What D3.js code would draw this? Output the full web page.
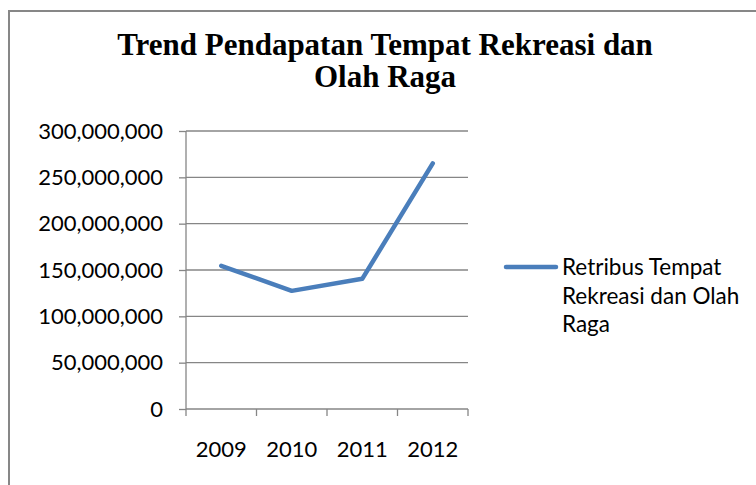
<!DOCTYPE html>
<html>
<head>
<meta charset="utf-8">
<script src="https://cdn.jsdelivr.net/npm/d3@7"></script>
<style>
  body { margin: 0; background: #fff; }
  text { fill: #000; }
</style>
</head>
<body>
<div id="chart"></div>
<script>
// data
var years = ["2009", "2010", "2011", "2012"];
var retribusi = [154500000, 127500000, 140500000, 265000000];
var yTicks = [0, 50000000, 100000000, 150000000, 200000000, 250000000, 300000000];
var titleLines = ["Trend Pendapatan Tempat Rekreasi dan", "Olah Raga"];
var legendLines = ["Retribus Tempat", "Rekreasi dan Olah", "Raga"];

var W = 756, H = 485;
var margin = {top: 131, left: 186, right: 288, bottom: 76};
var width = W - margin.left - margin.right,
    height = H - margin.top - margin.bottom;

var svg = d3.select("#chart").append("svg")
  .attr("width", W).attr("height", H);

// chart frame
svg.append("rect")
  .attr("x", 9).attr("y", 11)
  .attr("width", W + 20).attr("height", H + 20)
  .attr("fill", "none").attr("stroke", "#878787").attr("stroke-width", 2);

// title
svg.selectAll(".title").data(titleLines).enter().append("text")
  .attr("class", "title")
  .attr("x", 385)
  .attr("y", function(d, i) { return 55 + i * 32; })
  .attr("text-anchor", "middle")
  .style("font-family", "'Liberation Serif', 'Times New Roman', serif")
  .style("font-weight", "bold")
  .style("font-size", "31px")
  .text(function(d) { return d; });

var g = svg.append("g")
  .attr("transform", "translate(" + margin.left + "," + margin.top + ")");

var x = d3.scaleBand().domain(years).range([0, width]);
var y = d3.scaleLinear().domain([0, 300000000]).range([height, 0]);

var fmt = d3.format(",");
var tickFont = "Lato, 'Open Sans', sans-serif";

// gridlines
g.append("g")
  .selectAll("line").data(yTicks.slice(1)).enter().append("line")
  .attr("x1", 0).attr("x2", width)
  .attr("y1", function(d) { return y(d); })
  .attr("y2", function(d) { return y(d); })
  .attr("stroke", "#868686").attr("stroke-width", 1.3);

// y axis
var yAxis = g.append("g")
  .call(d3.axisLeft(y).tickValues(yTicks).tickSize(7).tickPadding(16)
    .tickFormat(function(d) { return fmt(d); }));
yAxis.select(".domain").attr("stroke", "#868686").attr("stroke-width", 1.3)
  .attr("d", "M0,0V" + height);
yAxis.selectAll(".tick line").attr("stroke", "#868686").attr("stroke-width", 1.3);
yAxis.selectAll("text")
  .style("font-family", tickFont).style("font-size", "22px").attr("fill", "#000");

// x axis with ticks on category boundaries
var xAxis = g.append("g")
  .attr("transform", "translate(0," + height + ")")
  .call(d3.axisBottom(x).tickSize(0).tickPadding(32));
xAxis.select(".domain").attr("stroke", "#868686").attr("stroke-width", 1.3)
  .attr("d", "M0,0H" + width);
xAxis.selectAll("text")
  .style("font-family", tickFont).style("font-size", "22px").attr("fill", "#000");
xAxis.selectAll(".bound").data(d3.range(years.length + 1)).enter().append("line")
  .attr("class", "bound")
  .attr("x1", function(i) { return i * x.step(); })
  .attr("x2", function(i) { return i * x.step(); })
  .attr("y1", 0).attr("y2", 7)
  .attr("stroke", "#868686").attr("stroke-width", 1.3);

// series line
var line = d3.line()
  .x(function(d, i) { return x(years[i]) + x.bandwidth() / 2; })
  .y(function(d) { return y(d); });

g.append("path")
  .datum(retribusi)
  .attr("d", line)
  .attr("fill", "none")
  .attr("stroke", "#4A7EBB")
  .attr("stroke-width", 4.5)
  .attr("stroke-linecap", "round")
  .attr("stroke-linejoin", "round");

// legend
var lg = svg.append("g").attr("transform", "translate(506,267)");
lg.append("line")
  .attr("x1", 0).attr("x2", 50).attr("y1", 0).attr("y2", 0)
  .attr("stroke", "#4A7EBB").attr("stroke-width", 4.5).attr("stroke-linecap", "round");
lg.selectAll("text").data(legendLines).enter().append("text")
  .attr("x", 56)
  .attr("y", function(d, i) { return 8 + i * 28.5; })
  .style("font-family", tickFont).style("font-size", "22.5px")
  .text(function(d) { return d; });
</script>
</body>
</html>
